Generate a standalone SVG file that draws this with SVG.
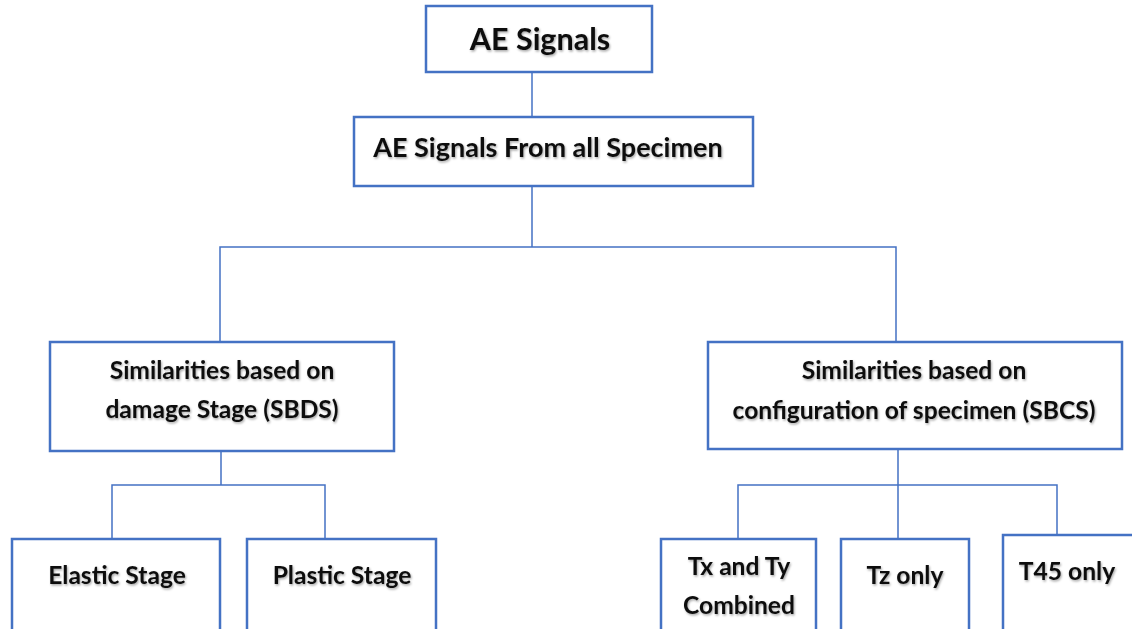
<svg xmlns="http://www.w3.org/2000/svg" width="1132" height="629" viewBox="0 0 1132 629">
<defs>
<filter id="sh" x="-10%" y="-30%" width="120%" height="160%">
<feDropShadow dx="1" dy="1.5" stdDeviation="1.2" flood-color="#000" flood-opacity="0.35"/>
</filter>
<style>
.box{fill:#fff;stroke:#4472C4;stroke-width:2.5}
.conn{fill:none;stroke:#4472C4;stroke-width:1.5}
text{font-family:Lato,"Liberation Sans",sans-serif;font-weight:bold;fill:#111;text-anchor:middle;filter:url(#sh)}
.t1{font-size:30.5px}
.t2{font-size:27px}
.t3{font-size:24.6px}
</style>
</defs>
<rect width="1132" height="629" fill="#fff"/>
<g id="connectors">
<path class="conn" d="M532 72V117"/>
<path class="conn" d="M532 186V247M220 342V247H896V342"/>
<path class="conn" d="M221 451V485M112 539V485H325V539"/>
<path class="conn" d="M898 449V539M738 539V485H1057V535"/>
</g>
<g id="n-ae">
<rect class="box" x="426" y="6" width="226" height="66"/>
<text class="t1" x="540" y="50">AE Signals</text>
</g>
<g id="n-all">
<rect class="box" x="354" y="117" width="399" height="69"/>
<text class="t2" x="548" y="157">AE Signals From all Specimen</text>
</g>
<g id="n-sbds">
<rect class="box" x="50" y="342" width="344" height="109"/>
<text class="t3" x="222" y="379">Similarities based on</text>
<text class="t3" x="222" y="418">damage Stage (SBDS)</text>
</g>
<g id="n-sbcs">
<rect class="box" x="708" y="342" width="414" height="107"/>
<text class="t3" x="914" y="379">Similarities based on</text>
<text class="t3" x="914" y="419">configuration of specimen (SBCS)</text>
</g>
<g id="n-elastic">
<rect class="box" x="12" y="539" width="208" height="110"/>
<text class="t3" x="117" y="584">Elastic Stage</text>
</g>
<g id="n-plastic">
<rect class="box" x="247" y="539" width="189" height="110"/>
<text class="t3" x="342" y="584">Plastic Stage</text>
</g>
<g id="n-txty">
<rect class="box" x="661" y="539" width="155" height="110"/>
<text class="t3" x="739" y="575">Tx and Ty</text>
<text class="t3" x="739" y="614">Combined</text>
</g>
<g id="n-tz">
<rect class="box" x="841" y="539" width="128" height="110"/>
<text class="t3" x="905" y="584">Tz only</text>
</g>
<g id="n-t45">
<rect class="box" x="1003" y="535" width="140" height="110"/>
<text class="t3" x="1067" y="580">T45 only</text>
</g>
</svg>
